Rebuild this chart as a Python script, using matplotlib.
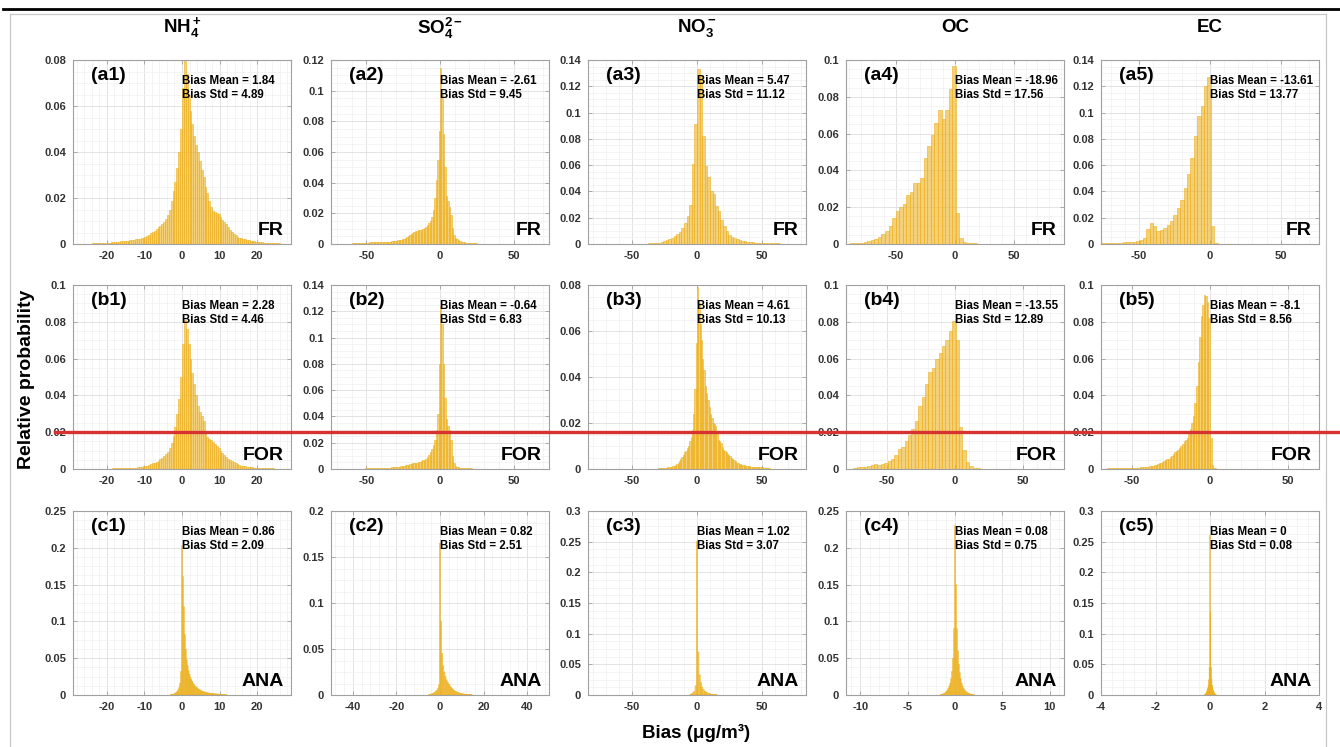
import numpy as np
import matplotlib
matplotlib.use('Agg')
import matplotlib.pyplot as plt
from matplotlib.ticker import MultipleLocator, AutoMinorLocator, FuncFormatter
from matplotlib.lines import Line2D
from matplotlib.transforms import blended_transform_factory

plt.rcParams['font.family'] = ['Liberation Sans', 'DejaVu Sans']
plt.rcParams['font.weight'] = 'bold'
plt.rcParams['axes.unicode_minus'] = False
plt.rcParams['mathtext.fontset'] = 'custom'
plt.rcParams['mathtext.rm'] = 'Liberation Sans:bold'
plt.rcParams['mathtext.it'] = 'Liberation Sans:bold'
plt.rcParams['mathtext.bf'] = 'Liberation Sans:bold'
plt.rcParams['mathtext.default'] = 'bf'

# ---------------- data ----------------
species = ['NH$_4^+$', 'SO$_4^{2-}$', 'NO$_3^-$', 'OC', 'EC']
regimes = ['FR', 'FOR', 'ANA']
row_letters = ['a', 'b', 'c']

bias_mean = [[1.84, -2.61, 5.47, -18.96, -13.61],
             [2.28, -0.64, 4.61, -13.55, -8.1],
             [0.86, 0.82, 1.02, 0.08, 0]]
bias_std = [[4.89, 9.45, 11.12, 17.56, 13.77],
            [4.46, 6.83, 10.13, 12.89, 8.56],
            [2.09, 2.51, 3.07, 0.75, 0.08]]

# histogram bins: first edge and bin width per panel
bin_start = [[-24, -60, -40, -89.4, -78.6],
             [-24, -60, -30, -74.5, -66],
             [-3.125, -5.25, -5.5, -1.55, -0.21]]
bin_width = [[0.5, 1, 2, 3, 2.4],
             [0.5, 1, 1, 2.5, 1],
             [0.25, 0.5, 1.0, 0.1, 0.02]]

nh4_fr = [0.0003, 0.0003, 0.0003, 0.0004, 0.0004, 0.0004, 0.0005, 0.0005,
          0.0006, 0.0006, 0.0007, 0.0007, 0.0008, 0.0009, 0.0010, 0.0011,
          0.0012, 0.0013, 0.0014, 0.0015, 0.0016, 0.0017, 0.0018, 0.0020,
          0.0021, 0.0022, 0.0024, 0.0026, 0.0030, 0.0035, 0.0040, 0.0046,
          0.0052, 0.0058, 0.0065, 0.0072, 0.0080, 0.0088, 0.0097, 0.0108,
          0.0125, 0.0150, 0.0185, 0.0230, 0.0270, 0.0330, 0.0400, 0.0500,
          0.0680, 0.0800, 0.0740, 0.0650, 0.0580, 0.0520, 0.0470, 0.0430,
          0.0400, 0.0360, 0.0320, 0.0290, 0.0250, 0.0220, 0.0185, 0.0160,
          0.0145, 0.0140, 0.0135, 0.0130, 0.0118, 0.0105, 0.0095, 0.0085,
          0.0072, 0.0062, 0.0052, 0.0045, 0.0038, 0.0032, 0.0028, 0.0025,
          0.0022, 0.0020, 0.0018, 0.0016, 0.0014, 0.0012, 0.0011, 0.0010,
          0.0009, 0.0008, 0.0007, 0.0006, 0.0006, 0.0005, 0.0005, 0.0004,
          0.0004, 0.0003, 0.0003, 0.0003]
so4_fr = [0.0004, 0.0004, 0.0005, 0.0005, 0.0005, 0.0006, 0.0006, 0.0006, 0.0007, 0.0007,
          0.0008, 0.0009, 0.0010, 0.0011, 0.0011, 0.0010, 0.0010, 0.0011, 0.0011, 0.0012,
          0.0012, 0.0012, 0.0013, 0.0013, 0.0014, 0.0015, 0.0016, 0.0017, 0.0018, 0.0020,
          0.0021, 0.0023, 0.0025, 0.0028, 0.0031, 0.0035, 0.0040, 0.0046, 0.0052, 0.0058,
          0.0064, 0.0070, 0.0077, 0.0083, 0.0088, 0.0092, 0.0090, 0.0094, 0.0100, 0.0106,
          0.0113, 0.0122, 0.0135, 0.0150, 0.0175, 0.0220, 0.0300, 0.0420, 0.0550, 0.0740,
          0.1150, 0.0980, 0.0720, 0.0500, 0.0310, 0.0280, 0.0240, 0.0190, 0.0105, 0.0060,
          0.0040, 0.0032, 0.0025, 0.0020, 0.0016, 0.0013, 0.0011, 0.0009, 0.0008, 0.0007,
          0.0006, 0.0005, 0.0005, 0.0004, 0.0004, 0.0003, 0.0003, 0.0003, 0.0002, 0.0002]
no3_fr = [0.0003, 0.0004, 0.0005, 0.0006, 0.0008, 0.0011, 0.0015, 0.0022, 0.0030, 0.0040,
          0.0048, 0.0060, 0.0075, 0.0090, 0.0120, 0.0160, 0.0210, 0.0300, 0.0610, 0.0910,
          0.1330, 0.1280, 0.0820, 0.0590, 0.0510, 0.0400, 0.0380, 0.0290, 0.0250, 0.0186,
          0.0135, 0.0100, 0.0070, 0.0050, 0.0045, 0.0038, 0.0030, 0.0025, 0.0020, 0.0018,
          0.0015, 0.0013, 0.0011, 0.0010, 0.0009, 0.0008, 0.0007, 0.0006, 0.0005, 0.0005,
          0.0004, 0.0004, 0.0003, 0.0003, 0.0002]
oc_fr = [0.0003, 0.0004, 0.0005, 0.0007, 0.0011, 0.0015, 0.0022, 0.0029, 0.0036, 0.0055,
         0.0073, 0.0096, 0.0142, 0.0180, 0.0200, 0.0220, 0.0265, 0.0280, 0.0330, 0.0330,
         0.0360, 0.0470, 0.0530, 0.0590, 0.0660, 0.0730, 0.0680, 0.0730, 0.0840, 0.0967,
         0.0169, 0.0033, 0.0011, 0.0006, 0.0004, 0.0003, 0.0002]
ec_fr = [0.0004, 0.0005, 0.0005, 0.0007, 0.0008, 0.0009, 0.0010, 0.0012, 0.0013, 0.0015,
         0.0018, 0.0020, 0.0028, 0.0046, 0.0117, 0.0160, 0.0135, 0.0102, 0.0110, 0.0122,
         0.0143, 0.0173, 0.0224, 0.0275, 0.0333, 0.0428, 0.0534, 0.0657, 0.0820, 0.0975,
         0.1050, 0.1200, 0.1270, 0.0135, 0.0010, 0.0003]

nh4_for = [0.0001, 0.0001, 0.0001, 0.0001, 0.0001, 0.0001, 0.0002, 0.0002,
           0.0002, 0.0002, 0.0002, 0.0003, 0.0003, 0.0003, 0.0003, 0.0004,
           0.0004, 0.0004, 0.0005, 0.0005, 0.0006, 0.0006, 0.0007, 0.0008,
           0.0009, 0.0010, 0.0012, 0.0014, 0.0016, 0.0019, 0.0022, 0.0026,
           0.0030, 0.0035, 0.0040, 0.0046, 0.0052, 0.0060, 0.0068, 0.0080,
           0.0095, 0.0115, 0.0140, 0.0180, 0.0230, 0.0300, 0.0380, 0.0500,
           0.0680, 0.0810, 0.0760, 0.0680, 0.0600, 0.0520, 0.0460, 0.0400,
           0.0340, 0.0310, 0.0290, 0.0260, 0.0200, 0.0175, 0.0165, 0.0158,
           0.0148, 0.0138, 0.0125, 0.0112, 0.0098, 0.0086, 0.0075, 0.0065,
           0.0055, 0.0048, 0.0042, 0.0036, 0.0030, 0.0026, 0.0022, 0.0019,
           0.0016, 0.0014, 0.0012, 0.0011, 0.0010, 0.0009, 0.0008, 0.0007,
           0.0006, 0.0006, 0.0005, 0.0005, 0.0004, 0.0004, 0.0003, 0.0003,
           0.0003, 0.0002, 0.0002, 0.0002]
so4_for = [0.0002, 0.0002, 0.0002, 0.0002, 0.0003, 0.0003, 0.0003, 0.0003, 0.0003, 0.0004,
           0.0004, 0.0004, 0.0004, 0.0005, 0.0005, 0.0005, 0.0005, 0.0006, 0.0006, 0.0006,
           0.0007, 0.0007, 0.0008, 0.0008, 0.0009, 0.0010, 0.0011, 0.0012, 0.0013, 0.0014,
           0.0015, 0.0017, 0.0019, 0.0021, 0.0023, 0.0025, 0.0028, 0.0031, 0.0034, 0.0037,
           0.0040, 0.0042, 0.0044, 0.0046, 0.0048, 0.0050, 0.0054, 0.0060, 0.0066, 0.0072,
           0.0078, 0.0090, 0.0110, 0.0130, 0.0150, 0.0180, 0.0220, 0.0300, 0.0420, 0.0800,
           0.1240, 0.1100, 0.0800, 0.0540, 0.0380, 0.0330, 0.0300, 0.0220, 0.0097, 0.0046,
           0.0025, 0.0018, 0.0014, 0.0011, 0.0009, 0.0008, 0.0007, 0.0006, 0.0005, 0.0005,
           0.0004, 0.0004, 0.0003, 0.0003, 0.0003, 0.0002, 0.0002, 0.0002, 0.0002, 0.0001]
no3_for = [0.0003, 0.0003, 0.0004, 0.0004, 0.0005, 0.0005, 0.0006, 0.0007, 0.0008, 0.0009,
           0.0010, 0.0012, 0.0014, 0.0017, 0.0020, 0.0026, 0.0033, 0.0042, 0.0052, 0.0063,
           0.0073, 0.0080, 0.0090, 0.0100, 0.0120, 0.0140, 0.0170, 0.0240, 0.0350, 0.0550,
           0.0790, 0.0720, 0.0630, 0.0560, 0.0480, 0.0430, 0.0360, 0.0330, 0.0300, 0.0270,
           0.0240, 0.0220, 0.0200, 0.0195, 0.0186, 0.0160, 0.0128, 0.0120, 0.0113, 0.0095,
           0.0084, 0.0078, 0.0073, 0.0066, 0.0060, 0.0055, 0.0050, 0.0045, 0.0040, 0.0033,
           0.0026, 0.0024, 0.0022, 0.0020, 0.0019, 0.0018, 0.0016, 0.0015, 0.0013, 0.0012,
           0.0011, 0.0010, 0.0010, 0.0009, 0.0009, 0.0009, 0.0009, 0.0008, 0.0008, 0.0008,
           0.0007, 0.0006, 0.0005, 0.0004, 0.0003, 0.0003]
oc_for = [0.0006, 0.0009, 0.0011, 0.0013, 0.0014, 0.0020, 0.0025, 0.0024, 0.0029, 0.0033,
          0.0042, 0.0054, 0.0078, 0.0110, 0.0118, 0.0150, 0.0186, 0.0220, 0.0260, 0.0340,
          0.0390, 0.0460, 0.0525, 0.0550, 0.0600, 0.0630, 0.0670, 0.0700, 0.0750, 0.0807,
          0.0700, 0.0228, 0.0105, 0.0040, 0.0015, 0.0007, 0.0004]
ec_for = [0.0003, 0.0003, 0.0003, 0.0004, 0.0004, 0.0004, 0.0004, 0.0004, 0.0005, 0.0005,
          0.0005, 0.0005, 0.0006, 0.0006, 0.0006, 0.0007, 0.0007, 0.0007, 0.0008, 0.0008,
          0.0008, 0.0009, 0.0009, 0.0010, 0.0011, 0.0012, 0.0013, 0.0014, 0.0016, 0.0018,
          0.0020, 0.0022, 0.0026, 0.0030, 0.0033, 0.0037, 0.0042, 0.0047, 0.0052, 0.0057,
          0.0065, 0.0069, 0.0080, 0.0090, 0.0098, 0.0105, 0.0115, 0.0127, 0.0138, 0.0150,
          0.0160, 0.0170, 0.0196, 0.0220, 0.0250, 0.0290, 0.0360, 0.0450, 0.0580, 0.0720,
          0.0830, 0.0890, 0.0945, 0.0940, 0.0910, 0.0820, 0.0170, 0.0024, 0.0008, 0.0004]

nh4_ana = [0.0003, 0.0005, 0.0008, 0.0012, 0.0018, 0.0026, 0.0036, 0.0050,
           0.0070, 0.0100, 0.0160, 0.0320, 0.2030, 0.1610, 0.1200, 0.0820,
           0.0620, 0.0480, 0.0400, 0.0330, 0.0280, 0.0240, 0.0210, 0.0185,
           0.0160, 0.0140, 0.0125, 0.0110, 0.0098, 0.0088, 0.0078, 0.0070,
           0.0062, 0.0056, 0.0050, 0.0045, 0.0041, 0.0037, 0.0034, 0.0031,
           0.0028, 0.0026, 0.0024, 0.0022, 0.0020, 0.0018, 0.0017, 0.0016,
           0.0015, 0.0014, 0.0013, 0.0012, 0.0011, 0.0010, 0.0009, 0.0008,
           0.0007, 0.0006, 0.0005, 0.0004]
so4_ana = [0.0005, 0.0008, 0.0010, 0.0015, 0.0020, 0.0028, 0.0038, 0.0050, 0.0070, 0.0110,
           0.1650, 0.0800, 0.0450, 0.0320, 0.0250, 0.0200, 0.0165, 0.0140, 0.0120, 0.0100,
           0.0085, 0.0072, 0.0060, 0.0050, 0.0042, 0.0035, 0.0030, 0.0025, 0.0021, 0.0018,
           0.0015, 0.0013, 0.0011, 0.0009, 0.0008, 0.0007, 0.0006, 0.0005, 0.0004, 0.0003]
no3_ana = [0.0010, 0.0020, 0.0035, 0.0060, 0.0150, 0.2500, 0.0700, 0.0330, 0.0200, 0.0130,
           0.0090, 0.0065, 0.0048, 0.0036, 0.0027, 0.0020, 0.0015, 0.0011, 0.0008, 0.0006,
           0.0004]
oc_ana = [0.0005, 0.0008, 0.0012, 0.0018, 0.0025, 0.0035, 0.0048, 0.0065, 0.0090, 0.0120,
          0.0160, 0.0220, 0.0320, 0.0500, 0.0900, 0.2300, 0.1500, 0.0900, 0.0600, 0.0420,
          0.0300, 0.0220, 0.0160, 0.0120, 0.0090, 0.0070, 0.0055, 0.0042, 0.0032, 0.0025,
          0.0020, 0.0016, 0.0012, 0.0010, 0.0008, 0.0006]
ec_ana = [0.0005, 0.0010, 0.0020, 0.0035, 0.0055, 0.0080, 0.0110, 0.0160, 0.0250, 0.0450,
          0.2610, 0.1350, 0.0450, 0.0260, 0.0160, 0.0110, 0.0075, 0.0050, 0.0032, 0.0020,
          0.0012, 0.0006]

heights = [[nh4_fr, so4_fr, no3_fr, oc_fr, ec_fr],
           [nh4_for, so4_for, no3_for, oc_for, ec_for],
           [nh4_ana, so4_ana, no3_ana, oc_ana, ec_ana]]

# ---------------- layout ----------------
W, H = 1340, 747
col_left = [73, 331, 588, 846, 1101]
row_top = [60, 285, 511]
ax_w, ax_h = 218, 184

y_max = [[0.08, 0.12, 0.14, 0.1, 0.14],
         [0.1, 0.14, 0.08, 0.1, 0.1],
         [0.25, 0.2, 0.3, 0.25, 0.3]]
x_half = [[29, 74, 84, 92.5, 77],
          [29, 74, 84, 80, 70],
          [29, 50, 84, 11.5, 4]]
x_step = [[10, 50, 50, 50, 50],
          [10, 50, 50, 50, 50],
          [10, 20, 50, 5, 2]]
y_step = [0.02, 0.02, 0.05]

bar_rgb = (0.929, 0.694, 0.125)
tick_color = '#333333'
spine_color = '#a0a0a0'

fig = plt.figure(figsize=(W / 100, H / 100), dpi=100)

fmt = FuncFormatter(lambda v, p: '%g' % round(v, 6))

for r in range(3):
    for c in range(5):
        left = col_left[c] / W
        bottom = 1 - (row_top[r] + ax_h) / H
        ax = fig.add_axes([left, bottom, ax_w / W, ax_h / H])
        h = np.asarray(heights[r][c])
        edges = bin_start[r][c] + bin_width[r][c] * np.arange(len(h))
        bars = ax.bar(edges, h, width=bin_width[r][c], align='edge',
                      facecolor=bar_rgb + (0.6,), edgecolor=bar_rgb + (1.0,),
                      linewidth=0.4, zorder=2)
        if r == 2:
            for b in bars:
                b.set_snap(False)
        ax.set_xlim(-x_half[r][c], x_half[r][c])
        ax.set_ylim(0, y_max[r][c])
        ax.xaxis.set_major_locator(MultipleLocator(x_step[r][c]))
        ax.yaxis.set_major_locator(MultipleLocator(y_step[r]))
        ax.xaxis.set_minor_locator(AutoMinorLocator(5))
        ax.yaxis.set_minor_locator(AutoMinorLocator(4))
        ax.xaxis.set_major_formatter(fmt)
        ax.yaxis.set_major_formatter(fmt)
        ax.set_axisbelow(True)
        ax.grid(True, which='major', color='#dedede', linewidth=0.6, zorder=0)
        ax.grid(True, which='minor', color='#f0f0f0', linewidth=0.5, zorder=0)
        for s in ax.spines.values():
            s.set_color(spine_color)
            s.set_linewidth(0.8)
        ax.tick_params(which='major', direction='in', length=3, width=0.6,
                       color=spine_color, top=True, right=True,
                       labelsize=8, labelcolor=tick_color, pad=5)
        ax.tick_params(which='minor', length=0, top=True, right=True)
        for lab in ax.get_xticklabels() + ax.get_yticklabels():
            lab.set_fontweight('bold')

        ax.text(0.081, 0.917, '(%s%d)' % (row_letters[r], c + 1),
                transform=ax.transAxes, fontsize=14, fontweight='bold',
                ha='left', va='center', color='black')
        tr = blended_transform_factory(ax.transData, ax.transAxes)
        ax.text(0, 0.888, 'Bias Mean = %g' % bias_mean[r][c], transform=tr,
                fontsize=8.3, fontweight='bold', ha='left', va='center',
                color='black', zorder=5)
        ax.text(0, 0.812, 'Bias Std = %g' % bias_std[r][c], transform=tr,
                fontsize=8.3, fontweight='bold', ha='left', va='center',
                color='black', zorder=5)
        ax.text(0.966, 0.072, regimes[r], transform=ax.transAxes,
                fontsize=14, fontweight='bold', ha='right', va='center',
                color='black', zorder=5)

# column headers
for c in range(5):
    fig.text((col_left[c] + ax_w / 2) / W, 1 - 28 / H, species[c],
             fontsize=13.5, fontweight='bold', ha='center', va='center')

fig.text(27 / W, 1 - 379 / H, 'Relative probability', rotation=90,
         fontsize=14, fontweight='bold', ha='center', va='center')
fig.text(696 / W, 1 - 733 / H, 'Bias (μg/m³)', fontsize=13.5,
         fontweight='bold', ha='center', va='center')

# page frame and rules
frame_kw = dict(color='#c8c8c8', linewidth=0.9, transform=fig.transFigure)
fig.add_artist(Line2D([10 / W, 10 / W], [0, 1 - 14 / H], **frame_kw))
fig.add_artist(Line2D([10 / W, 1326 / W], [1 - 14 / H, 1 - 14 / H], **frame_kw))
fig.add_artist(Line2D([1326 / W, 1326 / W], [0, 1 - 14 / H], **frame_kw))
fig.add_artist(Line2D([3 / W, 1], [1 - 8.7 / H, 1 - 8.7 / H], color='black',
                      linewidth=2.0, transform=fig.transFigure))
fig.add_artist(Line2D([55 / W, 1], [1 - 432 / H, 1 - 432 / H], color='#d63232',
                      linewidth=2.4, transform=fig.transFigure, zorder=10))

fig.savefig('out.png', dpi=100)
